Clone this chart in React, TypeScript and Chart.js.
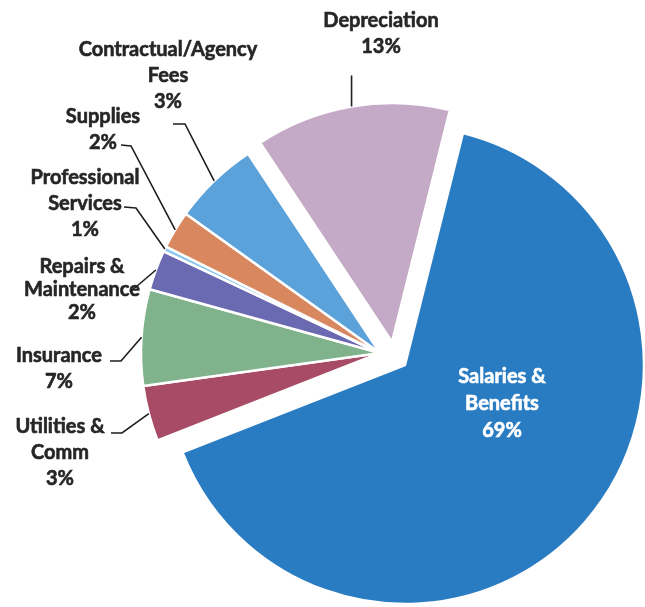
import React, { useEffect, useRef } from "react";
import { Chart, registerables } from "chart.js";

Chart.register(...registerables);

// ---- data ----
const categories = [
  "Depreciation",
  "Salaries & Benefits",
  "Utilities & Comm",
  "Insurance",
  "Repairs & Maintenance",
  "Professional Services",
  "Supplies",
  "Contractual/Agency Fees",
];
// slice sizes as drawn in the picture (share of the whole, %)
const sliceShares = [13.2, 65.15, 3.75, 6.5, 2.7, 0.35, 2.55, 5.8];
// percentages printed on the labels
const percentLabels = ["13%", "69%", "3%", "7%", "2%", "1%", "2%", "3%"];
const labelLines = [
  ["Depreciation"],
  ["Salaries &", "Benefits"],
  ["Utilities &", "Comm"],
  ["Insurance"],
  ["Repairs &", "Maintenance"],
  ["Professional", "Services"],
  ["Supplies"],
  ["Contractual/Agency", "Fees"],
];

// ---- styles ----
const sliceColors = [
  "#c4aac6",
  "#2a7cc2",
  "#a84b66",
  "#80b28c",
  "#6a6ab2",
  "#8cc8ee",
  "#d9875f",
  "#5ca2da",
];
// explode shift of each slice (px)
const sliceShift: [number, number][] = [
  [12, -11],
  [25, 12],
  [0, 0],
  [0, 0],
  [0, 0],
  [0, 0],
  [0, 0],
  [0, 0],
];

type Layout = {
  dx: number;
  dy: number;
  lh: number;
  color: string;
  leader?: [number, number][];
  vertical?: number;
};
const labelLayout: Layout[] = [
  { dx: 1, dy: -332, lh: 26, color: "#262626", vertical: 31 },
  { dx: 122, dy: 24, lh: 27, color: "#ffffff" },
  { dx: -320, dy: 74, lh: 26, color: "#262626", leader: [[-269, 80], [-258, 80]] },
  { dx: -321, dy: 3, lh: 26, color: "#262626", leader: [[-270, 8], [-259, 8]] },
  { dx: -298, dy: -86, lh: 23, color: "#262626", leader: [[-250, -61]] },
  { dx: -295, dy: -175, lh: 26, color: "#262626", leader: [[-256, -146], [-244, -145]] },
  { dx: -277, dy: -236, lh: 26, color: "#262626", leader: [[-259, -208], [-249, -207]] },
  { dx: -212, dy: -303, lh: 26, color: "#262626", leader: [[-207, -229], [-195, -229]] },
];

const explodePlugin = {
  id: "explodeSlices",
  afterDatasetsUpdate(chart: any) {
    const meta = chart.getDatasetMeta(0);
    meta.data.forEach((arc: any, i: number) => {
      arc.x += sliceShift[i][0];
      arc.y += sliceShift[i][1];
    });
  },
};

const labelPlugin = {
  id: "sliceLabels",
  afterDatasetsDraw(chart: any) {
    const ctx = chart.ctx as CanvasRenderingContext2D;
    const area = chart.chartArea;
    const cx = (area.left + area.right) / 2;
    const cy = (area.top + area.bottom) / 2;
    const meta = chart.getDatasetMeta(0);
    ctx.save();
    meta.data.forEach((arc: any, i: number) => {
      const mid = (arc.startAngle + arc.endAngle) / 2;
      const ax = arc.x + Math.cos(mid) * arc.outerRadius;
      const ay = arc.y + Math.sin(mid) * arc.outerRadius;
      const L = labelLayout[i];

      ctx.strokeStyle = "#1e1e1e";
      ctx.lineWidth = 1.6;
      if (L.vertical) {
        ctx.beginPath();
        ctx.moveTo(ax, ay - L.vertical);
        ctx.lineTo(ax, ay);
        ctx.stroke();
      } else if (L.leader) {
        ctx.beginPath();
        L.leader.forEach(([lx, ly], k) => {
          if (k === 0) ctx.moveTo(cx + lx, cy + ly);
          else ctx.lineTo(cx + lx, cy + ly);
        });
        ctx.lineTo(ax, ay);
        ctx.stroke();
      }

      const lines = [...labelLines[i], percentLabels[i]];
      ctx.fillStyle = L.color;
      ctx.strokeStyle = L.color;
      ctx.lineWidth = 0.6;
      ctx.font = "bold 20px Lato";
      ctx.textAlign = "center";
      ctx.textBaseline = "middle";
      lines.forEach((t, k) => {
        ctx.fillText(t, cx + L.dx, cy + L.dy + k * L.lh);
        ctx.strokeText(t, cx + L.dx, cy + L.dy + k * L.lh);
      });
    });
    ctx.restore();
  },
};

export default function App() {
  const ref = useRef<HTMLCanvasElement | null>(null);
  useEffect(() => {
    if (!ref.current) return;
    const chart = new Chart(ref.current, {
      type: "pie",
      data: {
        labels: categories,
        datasets: [
          {
            data: sliceShares,
            backgroundColor: sliceColors,
            borderColor: "#ffffff",
            borderWidth: 2.5,
          },
        ],
      },
      options: {
        responsive: false,
        animation: false,
        rotation: -33.5,
        radius: 239,
        layout: { padding: { left: 115, right: 0, top: 99, bottom: 0 } },
        plugins: {
          legend: { display: false },
          tooltip: { enabled: false },
        },
      },
      plugins: [explodePlugin, labelPlugin],
    });
    return () => chart.destroy();
  }, []);
  return (
    <div style={{ position: "absolute", left: 0, top: 0, width: 645, height: 607, background: "#ffffff" }}>
      <canvas ref={ref} width={645} height={607} />
    </div>
  );
}
